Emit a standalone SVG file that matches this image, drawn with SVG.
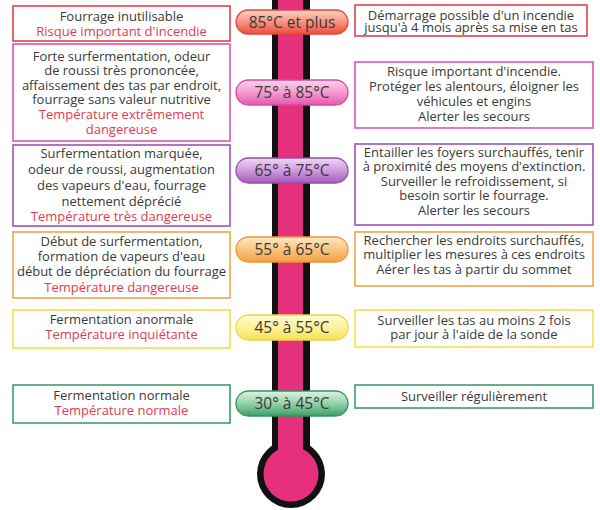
<svg xmlns="http://www.w3.org/2000/svg" width="600" height="510" viewBox="0 0 600 510">
<defs>
<style>
.t{font-family:"Open Sans","Noto Sans","Liberation Sans",sans-serif;font-size:13px;fill:#3a3a3a;text-anchor:middle}
.r{fill:#e23b4e}
.p{font-family:"Open Sans","Noto Sans","Liberation Sans",sans-serif;font-size:15.5px;fill:#3a3a3a;text-anchor:middle}
.box{fill:#fff;stroke-width:1.6}
.pill{stroke-width:1.3}
</style>
<linearGradient id="gR" x1="0" y1="0" x2="0" y2="1"><stop offset="0" stop-color="#fcd3c8"/><stop offset="0.5" stop-color="#f7927e"/><stop offset="1" stop-color="#ee4e3e"/></linearGradient>
<linearGradient id="gP" x1="0" y1="0" x2="0" y2="1"><stop offset="0" stop-color="#fbd5ec"/><stop offset="0.5" stop-color="#f39ad0"/><stop offset="1" stop-color="#e458ac"/></linearGradient>
<linearGradient id="gV" x1="0" y1="0" x2="0" y2="1"><stop offset="0" stop-color="#f0d8f4"/><stop offset="0.5" stop-color="#cf9ade"/><stop offset="1" stop-color="#a45cba"/></linearGradient>
<linearGradient id="gO" x1="0" y1="0" x2="0" y2="1"><stop offset="0" stop-color="#fee8c8"/><stop offset="0.5" stop-color="#fbc47e"/><stop offset="1" stop-color="#f6a043"/></linearGradient>
<linearGradient id="gY" x1="0" y1="0" x2="0" y2="1"><stop offset="0" stop-color="#fffbd8"/><stop offset="0.5" stop-color="#fdf29a"/><stop offset="1" stop-color="#f6e152"/></linearGradient>
<linearGradient id="gG" x1="0" y1="0" x2="0" y2="1"><stop offset="0" stop-color="#dff3e4"/><stop offset="0.5" stop-color="#93d2a8"/><stop offset="1" stop-color="#3c9e68"/></linearGradient>
</defs>

<g id="thermometer">
<rect x="272" y="0" width="38" height="460" fill="#111"/>
<circle cx="291" cy="474" r="34" fill="#111"/>
<rect x="278" y="0" width="25" height="460" fill="#e5307d"/>
<circle cx="291" cy="474" r="27.5" fill="#e5307d"/>
</g>

<g id="connectors"></g>

<g id="left-85">
<rect class="box" x="13" y="6" width="217" height="35" stroke="#e2424f"/>
<text class="t" x="121.5" y="21">Fourrage inutilisable</text>
<text class="t r" x="121.5" y="36">Risque important d'incendie</text>
</g>
<g id="pill-85">
<rect class="pill" x="236" y="10" width="112" height="24" rx="12" fill="url(#gR)" stroke="#e0463c"/>
<text class="p" x="292" y="27.5">85°C et plus</text>
</g>
<g id="right-85">
<rect class="box" x="355" y="5" width="232" height="31" stroke="#e2424f"/>
<text class="t" x="471" y="19.5">Démarrage possible d'un incendie</text>
<text class="t" x="471" y="32">jusqu'à 4 mois après sa mise en tas</text>
</g>

<g id="left-75">
<rect class="box" x="13" y="44" width="217" height="97" stroke="#e055b0"/>
<text class="t" x="121.5" y="61">Forte surfermentation, odeur</text>
<text class="t" x="121.5" y="75">de roussi très prononcée,</text>
<text class="t" x="121.5" y="89.5">affaissement des tas par endroit,</text>
<text class="t" x="121.5" y="104">fourrage sans valeur nutritive</text>
<text class="t r" x="121.5" y="119">Température extrêmement</text>
<text class="t r" x="121.5" y="133.5">dangereuse</text>
</g>
<g id="pill-75">
<rect class="pill" x="236" y="80" width="112" height="25" rx="12.5" fill="url(#gP)" stroke="#d8489e"/>
<text class="p" x="292" y="98">75° à 85°C</text>
</g>
<g id="right-75">
<rect class="box" x="355" y="62" width="238" height="66" stroke="#e055b0"/>
<text class="t" x="474" y="76">Risque important d'incendie.</text>
<text class="t" x="474" y="91">Protéger les alentours, éloigner les</text>
<text class="t" x="474" y="106">véhicules et engins</text>
<text class="t" x="474" y="121">Alerter les secours</text>
</g>

<g id="left-65">
<rect class="box" x="13" y="145" width="217" height="81" stroke="#9b55ad"/>
<text class="t" x="121.5" y="158">Surfermentation marquée,</text>
<text class="t" x="121.5" y="174">odeur de roussi, augmentation</text>
<text class="t" x="121.5" y="190">des vapeurs d'eau, fourrage</text>
<text class="t" x="121.5" y="205.5">nettement déprécié</text>
<text class="t r" x="121.5" y="221">Température très dangereuse</text>
</g>
<g id="pill-65">
<rect class="pill" x="236" y="158" width="112" height="25" rx="12.5" fill="url(#gV)" stroke="#9450a8"/>
<text class="p" x="292" y="176">65° à 75°C</text>
</g>
<g id="right-65">
<rect class="box" x="355" y="144" width="238" height="81" stroke="#9b55ad"/>
<text class="t" x="474" y="157">Entailler les foyers surchauffés, tenir</text>
<text class="t" x="474" y="171">à proximité des moyens d'extinction.</text>
<text class="t" x="474" y="185.5">Surveiller le refroidissement, si</text>
<text class="t" x="474" y="200">besoin sortir le fourrage.</text>
<text class="t" x="474" y="214.5">Alerter les secours</text>
</g>

<g id="left-55">
<rect class="box" x="13" y="232" width="217" height="66" stroke="#f2a54a"/>
<text class="t" x="121.5" y="246">Début de surfermentation,</text>
<text class="t" x="121.5" y="261">formation de vapeurs d'eau</text>
<text class="t" x="121.5" y="275.5">début de dépréciation du fourrage</text>
<text class="t r" x="121.5" y="292">Température dangereuse</text>
</g>
<g id="pill-55">
<rect class="pill" x="236" y="237" width="112" height="25" rx="12.5" fill="url(#gO)" stroke="#f0953a"/>
<text class="p" x="292" y="255">55° à 65°C</text>
</g>
<g id="right-55">
<rect class="box" x="355" y="232" width="238" height="54" stroke="#f2a54a"/>
<text class="t" x="474" y="245">Rechercher les endroits surchauffés,</text>
<text class="t" x="474" y="259">multiplier les mesures à ces endroits</text>
<text class="t" x="474" y="273.5">Aérer les tas à partir du sommet</text>
</g>

<g id="left-45">
<rect class="box" x="13" y="310" width="217" height="38" stroke="#f1e244"/>
<text class="t" x="121.5" y="324">Fermentation anormale</text>
<text class="t r" x="121.5" y="338.5">Température inquiétante</text>
</g>
<g id="pill-45">
<rect class="pill" x="236" y="315" width="112" height="25" rx="12.5" fill="url(#gY)" stroke="#ecd645"/>
<text class="p" x="292" y="333">45° à 55°C</text>
</g>
<g id="right-45">
<rect class="box" x="355" y="310" width="238" height="37" stroke="#f1e244"/>
<text class="t" x="474" y="325">Surveiller les tas au moins 2 fois</text>
<text class="t" x="474" y="339">par jour à l'aide de la sonde</text>
</g>

<g id="left-30">
<rect class="box" x="13" y="385" width="217" height="38" stroke="#3d9f70"/>
<text class="t" x="121.5" y="400">Fermentation normale</text>
<text class="t r" x="121.5" y="415">Température normale</text>
</g>
<g id="pill-30">
<rect class="pill" x="236" y="391" width="112" height="25" rx="12.5" fill="url(#gG)" stroke="#34925e"/>
<text class="p" x="292" y="409">30° à 45°C</text>
</g>
<g id="right-30">
<rect class="box" x="355" y="385" width="238" height="23" stroke="#3d9f70"/>
<text class="t" x="474" y="400.5">Surveiller régulièrement</text>
</g>
</svg>
